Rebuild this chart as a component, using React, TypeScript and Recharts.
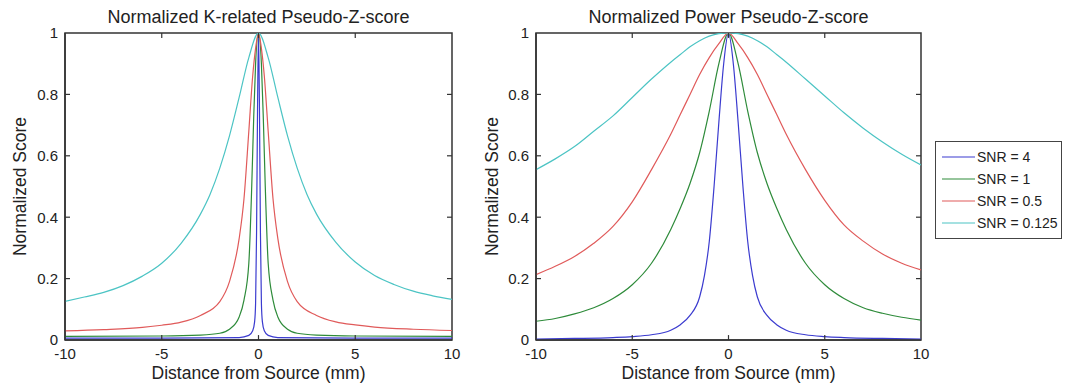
import React from "react";
import { LineChart, Line, XAxis, YAxis, ReferenceArea, ReferenceLine } from "recharts";

const snrLabels = ["SNR = 4", "SNR = 1", "SNR = 0.5", "SNR = 0.125"];
const snrColors = ["#3b3bcf", "#2e8b3a", "#e05a5a", "#4cc4c4"];

const xTicks = [-10, -5, 0, 5, 10];
const yTicks = [0, 0.2, 0.4, 0.6, 0.8, 1];

// K-related pseudo-Z-score
const kDistSharp = [-10, -5, -1, -0.5, -0.3, -0.2, -0.15, -0.1, -0.05, 0, 0.05, 0.1, 0.15, 0.2, 0.3, 0.5, 1, 5, 10];
const kBlue = [0.006, 0.006, 0.008, 0.015, 0.03, 0.06, 0.12, 0.35, 0.75, 1.0, 0.75, 0.35, 0.12, 0.06, 0.03, 0.015, 0.008, 0.006, 0.006];

const kDistNarrow = [-10, -5, -3, -2, -1.5, -1, -0.75, -0.5, -0.35, -0.25, -0.15, 0, 0.15, 0.25, 0.35, 0.5, 0.75, 1, 1.5, 2, 3, 5, 10];
const kGreen = [0.012, 0.013, 0.016, 0.022, 0.035, 0.075, 0.13, 0.25, 0.5, 0.72, 0.9, 1.0, 0.9, 0.72, 0.5, 0.25, 0.13, 0.075, 0.035, 0.022, 0.016, 0.013, 0.012];

const kDistMid = [-10, -8, -6, -5, -4, -3, -2, -1.5, -1, -0.75, -0.5, -0.3, -0.15, 0, 0.15, 0.3, 0.5, 0.75, 1, 1.5, 2, 3, 4, 5, 6, 8, 10];
const kRed = [0.03, 0.034, 0.041, 0.048, 0.058, 0.08, 0.125, 0.19, 0.33, 0.46, 0.68, 0.86, 0.95, 1.0, 0.95, 0.86, 0.68, 0.46, 0.33, 0.19, 0.125, 0.08, 0.059, 0.049, 0.042, 0.035, 0.031];

const kDistWide = [-10, -9, -8, -7, -6, -5, -4, -3, -2.5, -2, -1.5, -1, -0.5, 0, 0.5, 1, 1.5, 2, 2.5, 3, 4, 5, 6, 7, 8, 9, 10];
const kCyan = [0.126, 0.14, 0.155, 0.177, 0.208, 0.25, 0.315, 0.41, 0.475, 0.56, 0.665, 0.79, 0.92, 1.0, 0.92, 0.79, 0.665, 0.56, 0.475, 0.41, 0.318, 0.254, 0.21, 0.181, 0.159, 0.144, 0.132];

// Power pseudo-Z-score
const pDistSharp = [-10, -8, -6, -5, -4, -3, -2.5, -2, -1.5, -1.25, -1, -0.75, -0.5, -0.25, 0, 0.25, 0.5, 0.75, 1, 1.25, 1.5, 2, 2.5, 3, 4, 5, 6, 8, 10];
const pBlue = [0.003, 0.005, 0.008, 0.011, 0.017, 0.032, 0.05, 0.08, 0.14, 0.21, 0.32, 0.5, 0.71, 0.9, 1.0, 0.9, 0.71, 0.5, 0.32, 0.21, 0.14, 0.08, 0.05, 0.032, 0.017, 0.011, 0.008, 0.005, 0.003];

const pDist = [-10, -9, -8, -7, -6, -5, -4, -3, -2.5, -2, -1.5, -1, -0.5, 0, 0.5, 1, 1.5, 2, 2.5, 3, 4, 5, 6, 7, 8, 9, 10];
const pGreen = [0.061, 0.07, 0.085, 0.105, 0.135, 0.18, 0.25, 0.36, 0.43, 0.51, 0.61, 0.745, 0.9, 1.0, 0.9, 0.745, 0.61, 0.51, 0.43, 0.36, 0.25, 0.18, 0.135, 0.105, 0.087, 0.074, 0.065];
const pRed = [0.213, 0.24, 0.272, 0.315, 0.37, 0.45, 0.555, 0.67, 0.735, 0.8, 0.865, 0.92, 0.965, 1.0, 0.965, 0.92, 0.865, 0.8, 0.735, 0.67, 0.555, 0.455, 0.375, 0.322, 0.28, 0.25, 0.228];
const pCyan = [0.555, 0.59, 0.63, 0.68, 0.73, 0.79, 0.85, 0.905, 0.93, 0.955, 0.975, 0.99, 0.998, 1.0, 0.998, 0.99, 0.975, 0.955, 0.93, 0.905, 0.85, 0.795, 0.74, 0.69, 0.645, 0.605, 0.57];

type Pt = { x: number; y: number };
const toPoints = (xs: number[], ys: number[]): Pt[] => xs.map((x, i) => ({ x, y: ys[i] }));

const kSeries = [
  toPoints(kDistSharp, kBlue),
  toPoints(kDistNarrow, kGreen),
  toPoints(kDistMid, kRed),
  toPoints(kDistWide, kCyan),
];
const pSeries = [
  toPoints(pDistSharp, pBlue),
  toPoints(pDist, pGreen),
  toPoints(pDist, pRed),
  toPoints(pDist, pCyan),
];

const W = 470;
const H = 391;
const Y_AXIS_W = 40;
const axisColor = "#333";
const font = "'Liberation Sans', Arial, sans-serif";
const tickStyle = { fontSize: 15, fill: "#222", fontFamily: font };

// inward tick length in data units (~5px)
const TICK_DX = 0.26;
const TICK_DY = 0.016;
const xMin = xTicks[0];
const xMax = xTicks[xTicks.length - 1];
const yMin = yTicks[0];
const yMax = yTicks[yTicks.length - 1];

type Margin = { top: number; right: number; bottom: number; left: number };

const Panel = ({
  left,
  title,
  series,
  margin,
  yLabelX,
}: {
  left: number;
  title: string;
  series: Pt[][];
  margin: Margin;
  yLabelX: number;
}) => {
  const plotLeft = margin.left + Y_AXIS_W;
  const plotRight = W - margin.right;
  const cx = (plotLeft + plotRight) / 2;
  const cy = (margin.top + (H - margin.bottom - 30)) / 2;
  const innerX = xTicks.slice(1, -1);
  const innerY = yTicks.slice(1, -1);
  const tickProps = {
    xAxisId: "b",
    yAxisId: "l",
    stroke: axisColor,
    strokeWidth: 1.2,
    ifOverflow: "visible" as const,
  };
  return (
    <div style={{ position: "absolute", left, top: 0, width: W, height: H }}>
      <LineChart width={W} height={H} margin={margin}>
        <XAxis
          xAxisId="b"
          type="number"
          dataKey="x"
          domain={[xMin, xMax]}
          ticks={xTicks}
          allowDataOverflow
          height={30}
          tickSize={0}
          tickMargin={8}
          tickLine={false}
          stroke={axisColor}
          strokeWidth={1.5}
          tick={tickStyle}
        />
        <YAxis
          yAxisId="l"
          type="number"
          domain={[yMin, yMax]}
          ticks={yTicks}
          allowDataOverflow
          width={Y_AXIS_W}
          tickSize={0}
          tickMargin={7}
          tickLine={false}
          stroke={axisColor}
          strokeWidth={1.5}
          tick={tickStyle}
        />
        {series.map((pts, i) => (
          <Line
            key={snrLabels[i]}
            xAxisId="b"
            yAxisId="l"
            data={pts}
            dataKey="y"
            name={snrLabels[i]}
            type="monotone"
            stroke={snrColors[i]}
            strokeWidth={1.2}
            dot={false}
            activeDot={false}
            isAnimationActive={false}
          />
        ))}
        <ReferenceArea
          xAxisId="b"
          yAxisId="l"
          x1={xMin}
          x2={xMax}
          y1={yMin}
          y2={yMax}
          fill="none"
          fillOpacity={0}
          stroke={axisColor}
          strokeWidth={1.5}
          ifOverflow="visible"
        />
        {innerX.map((t) => (
          <ReferenceLine key={`xb${t}`} {...tickProps} segment={[{ x: t, y: yMin }, { x: t, y: yMin + TICK_DY }]} />
        ))}
        {innerX.map((t) => (
          <ReferenceLine key={`xt${t}`} {...tickProps} segment={[{ x: t, y: yMax }, { x: t, y: yMax - TICK_DY }]} />
        ))}
        {innerY.map((t) => (
          <ReferenceLine key={`yl${t}`} {...tickProps} segment={[{ x: xMin, y: t }, { x: xMin + TICK_DX, y: t }]} />
        ))}
        {innerY.map((t) => (
          <ReferenceLine key={`yr${t}`} {...tickProps} segment={[{ x: xMax, y: t }, { x: xMax - TICK_DX, y: t }]} />
        ))}
      </LineChart>
      <svg
        width={W}
        height={H}
        style={{ position: "absolute", left: 0, top: 0, pointerEvents: "none" }}
        fontFamily={font}
        fill="#222"
      >
        <text x={cx} y={23} fontSize={18} textAnchor="middle">
          {title}
        </text>
        <text x={cx} y={379} fontSize={17.5} textAnchor="middle">
          Distance from Source (mm)
        </text>
        <text
          x={yLabelX}
          y={cy}
          fontSize={17.5}
          textAnchor="middle"
          transform={`rotate(-90 ${yLabelX} ${cy})`}
        >
          Normalized Score
        </text>
      </svg>
    </div>
  );
};

const LegendBox = () => (
  <div
    style={{
      position: "absolute",
      left: 935,
      top: 141,
      width: 127,
      height: 98,
      border: "1px solid #444",
      background: "#fff",
      boxSizing: "border-box",
    }}
  >
    <svg width={127} height={98} fontFamily={font}>
      {snrLabels.map((label, i) => {
        const y = 15 + i * 22;
        return (
          <g key={label}>
            <line x1={6} x2={39} y1={y} y2={y} stroke={snrColors[i]} strokeWidth={1.2} />
            <text x={41} y={y + 5} fontSize={14} fill="#222">
              {label}
            </text>
          </g>
        );
      })}
    </svg>
  </div>
);

const App = () => (
  <div
    style={{
      position: "absolute",
      left: 0,
      top: 0,
      width: 1065,
      height: 391,
      background: "#fff",
      fontFamily: font,
      overflow: "hidden",
    }}
  >
    <Panel
      left={0}
      title="Normalized K-related Pseudo-Z-score"
      series={kSeries}
      margin={{ top: 33, right: 18, bottom: 21, left: 25 }}
      yLabelX={26}
    />
    <Panel
      left={470}
      title="Normalized Power Pseudo-Z-score"
      series={pSeries}
      margin={{ top: 33, right: 19, bottom: 21, left: 26 }}
      yLabelX={28}
    />
    <LegendBox />
  </div>
);

export default App;
